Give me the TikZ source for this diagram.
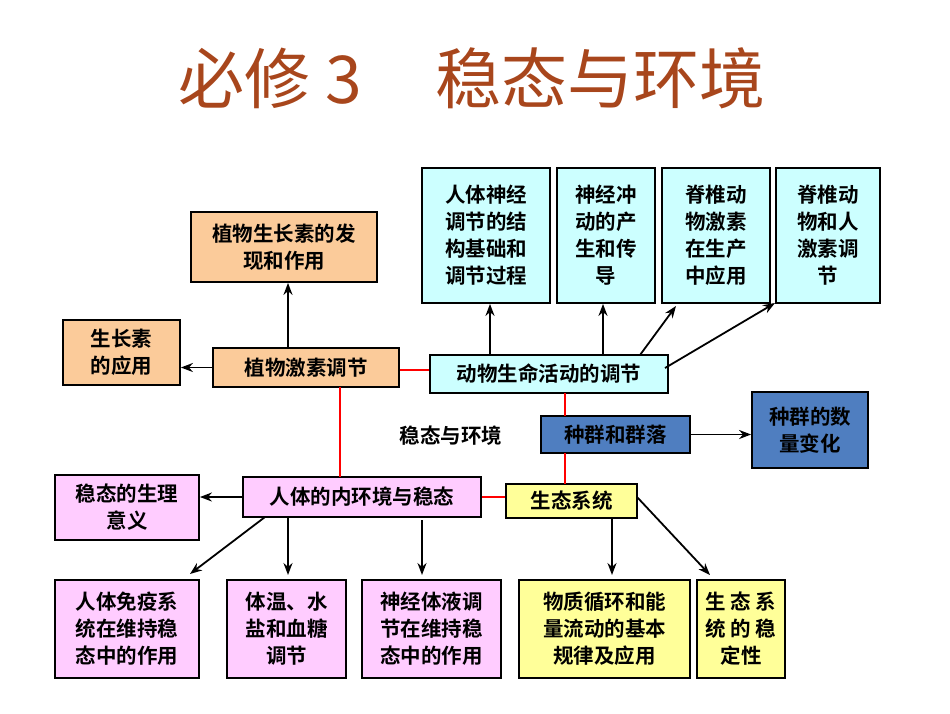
\documentclass[tikz,border=0pt]{standalone}
\usepackage{fontspec}
\setmainfont{Noto Sans CJK SC}[BoldFont={Noto Sans CJK SC Bold}]
\usetikzlibrary{arrows.meta}
\definecolor{org}{HTML}{FBCB9A}
\definecolor{cya}{HTML}{CCFFFF}
\definecolor{blu}{HTML}{4F7EC0}
\definecolor{pnk}{HTML}{FFCCFF}
\definecolor{yel}{HTML}{FFFF99}
\definecolor{ttl}{HTML}{A8461C}
\begin{document}
\begin{tikzpicture}[x=1pt,y=-1pt,
 bx/.style={draw=black,line width=1.8pt,inner sep=0pt,font=\fontsize{20.5}{27}\selectfont\bfseries,align=center},
 rl/.style={red,line width=2.2pt},
 ar/.style={line width=1.8pt,-{Stealth[length=12pt,width=9pt]}}]
\useasboundingbox (0,0) rectangle (950,713);
\node[text=ttl,font=\fontsize{66}{72}\selectfont] (t) at (472,78) {必修 3\hspace{1.1em}稳态与环境};
\def\B#1#2#3#4#5#6#7{\node[bx,fill=#6,minimum width=#3-#2,minimum height=#5-#4] (#1) at ({(#2+#3)/2},{(#4+#5)/2}) {#7};}
\B{zf}{191}{377}{212}{282}{org}{植物生长素的发\\现和作用}
\B{zy}{63}{180}{320}{385}{org}{生长素\\的应用}
\B{zj}{213}{399}{348}{387}{org}{植物激素调节}
\B{dw}{430}{668}{355}{393}{cya}{动物生命活动的调节}
\B{c1}{422}{550}{168}{303}{cya}{人体神经\\调节的结\\构基础和\\调节过程}
\B{c2}{557}{655}{168}{303}{cya}{神经冲\\动的产\\生和传\\导}
\B{c3}{662}{770}{168}{303}{cya}{脊椎动\\物激素\\在生产\\中应用}
\B{c4}{776}{880}{168}{303}{cya}{脊椎动\\物和人\\激素调\\节}
\B{zq}{541}{690}{416}{453}{blu}{种群和群落}
\B{sl}{752}{868}{392}{468}{blu}{种群的数\\量变化}
\B{rt}{243}{481}{477}{517}{pnk}{人体的内环境与稳态}
\B{wt}{55}{199}{475}{540}{pnk}{稳态的生理\\意义}
\B{st}{506}{637}{484}{518}{yel}{生态系统}
\B{b1}{55}{199}{580}{678}{pnk}{人体免疫系\\统在维持稳\\态中的作用}
\B{b2}{227}{346}{580}{678}{pnk}{体温、水\\盐和血糖\\调节}
\B{b3}{362}{501}{580}{678}{pnk}{神经体液调\\节在维持稳\\态中的作用}
\B{b4}{519}{690}{580}{678}{yel}{物质循环和能\\量流动的基本\\规律及应用}
\B{b5}{697}{785}{580}{678}{yel}{生 态 系\\统 的 稳\\定性}
\node[font=\fontsize{20.5}{27}\selectfont\bfseries] (lb) at (451,436) {稳态与环境};
\draw[rl] (zj.east|-0,370) -- (dw.west|-0,370);
\draw[rl] (340,387) -- (340,477);
\draw[rl] (rt.east|-0,497) -- (st.west|-0,497);
\draw[rl] (565,393) -- (565,416);
\draw[rl] (565,453) -- (565,484);
\draw[ar] (288,348) -- (zf.south-|288,0);
\draw[ar] (zj.west) -- (zy.east|-zj.west);
\draw[ar] (490,355) -- (c1.south-|490,0);
\draw[ar] (603,355) -- (c2.south-|603,0);
\draw[ar] (640,355) -- (676,306);
\draw[ar] (665,368) -- (775,303);
\draw[ar] (zq.east) -- (sl.west|-zq.east);
\draw[ar] (rt.west) -- (wt.east|-rt.west);
\draw[ar] (265,517) -- (190,574);
\draw[ar] (288,517) -- (288,575);
\draw[ar] (422,520) -- (422,575);
\draw[ar] (612,518) -- (612,575);
\draw[ar] (637,497) -- (710,575);
\end{tikzpicture}
\end{document}
